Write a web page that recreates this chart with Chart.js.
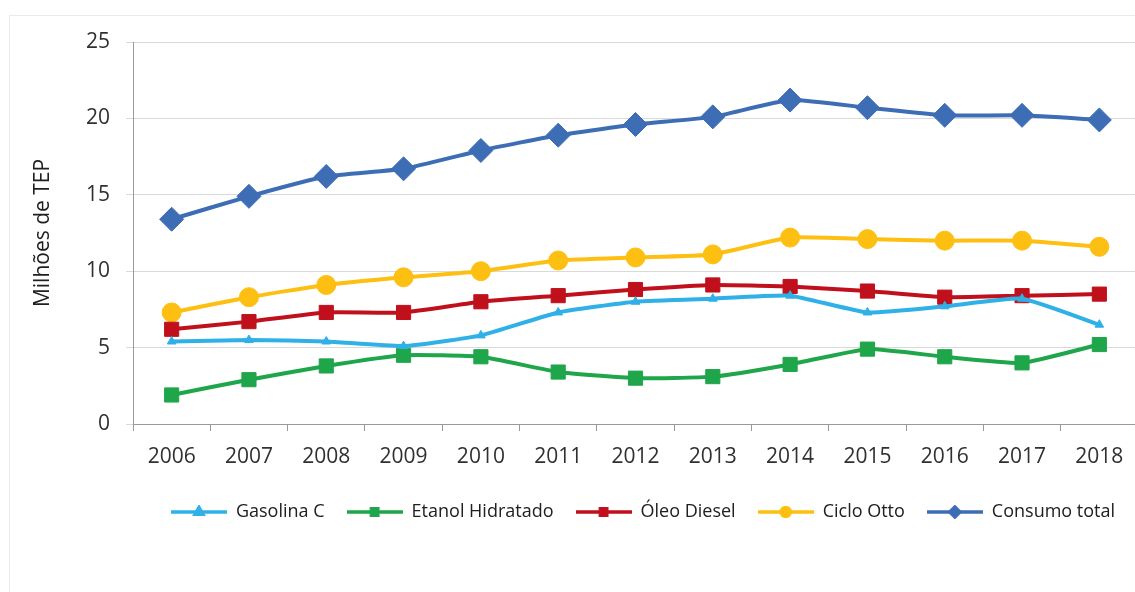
<!DOCTYPE html>
<html lang="pt">
<head>
<meta charset="UTF-8">
<title>Consumo de combustíveis</title>
<script src="https://cdn.jsdelivr.net/npm/chart.js"></script>
<style>
    html, body { margin: 0; padding: 0; background: #ffffff; overflow: hidden; }
    .frame {
        position: absolute; left: 9px; top: 15px; width: 1126px; height: 590px;
        border: 1px solid #ebebeb; border-right: none; box-sizing: border-box;
    }
    .box { position: absolute; left: 0; top: 0; width: 1151px; height: 592px; }
</style>
</head>
<body>
<div class="frame"></div>
<div class="box"><canvas id="chart"></canvas></div>
<script>
    const anos = ['2006', '2007', '2008', '2009', '2010', '2011', '2012', '2013', '2014', '2015', '2016', '2017', '2018'];
    const gasolinaC = [5.4, 5.5, 5.4, 5.1, 5.8, 7.3, 8.0, 8.2, 8.4, 7.3, 7.7, 8.2, 6.5];
    const etanolHidratado = [1.9, 2.9, 3.8, 4.5, 4.4, 3.4, 3.0, 3.1, 3.9, 4.9, 4.4, 4.0, 5.2];
    const oleoDiesel = [6.2, 6.7, 7.3, 7.3, 8.0, 8.4, 8.8, 9.1, 9.0, 8.7, 8.3, 8.4, 8.5];
    const cicloOtto = [7.3, 8.3, 9.1, 9.6, 10.0, 10.7, 10.9, 11.1, 12.2, 12.1, 12.0, 12.0, 11.6];
    const consumoTotal = [13.4, 14.9, 16.2, 16.7, 17.9, 18.9, 19.6, 20.1, 21.2, 20.7, 20.2, 20.2, 19.9];

    const FONT = "'Open Sans', sans-serif";

    // small line + marker image for each legend entry
    function legendIcon(color, style, r) {
        const c = document.createElement('canvas');
        c.width = 56; c.height = 14;
        const g = c.getContext('2d');
        g.strokeStyle = color; g.fillStyle = color; g.lineWidth = 3.5;
        g.beginPath(); g.moveTo(0, 7); g.lineTo(56, 7); g.stroke();
        Chart.helpers.drawPoint(g, { pointStyle: style, radius: r, borderWidth: 1 }, 28, 7);
        return c;
    }

    function serie(label, data, color, style, radius) {
        return {
            label: label,
            data: data,
            borderColor: color,
            backgroundColor: color,
            borderWidth: 4,
            pointStyle: style,
            pointRadius: radius,
            pointHoverRadius: radius,
            pointBorderWidth: 1,
            tension: 0.15,
            icon: legendIcon(color, style, style === 'rectRot' ? 5 : 4.5)
        };
    }

    const datasets = [
        serie('Gasolina C', gasolinaC, '#2fb0e6', 'triangle', 5),
        serie('Etanol Hidratado', etanolHidratado, '#1fa64b', 'rect', 10),
        serie('Óleo Diesel', oleoDiesel, '#c0101c', 'rect', 10),
        serie('Ciclo Otto', cicloOtto, '#fdbf11', 'circle', 9.5),
        serie('Consumo total', consumoTotal, '#3d6db4', 'rectRot', 12)
    ];

    // the legend sits a bit right of the canvas centre
    const legendShift = {
        id: 'legendShift',
        beforeDraw(chart) {
            const lg = chart.legend;
            const dx = 643 - (lg.left + lg.right) / 2;
            lg.left += dx;
            lg.right += dx;
        }
    };

    new Chart(document.getElementById('chart'), {
        type: 'line',
        data: { labels: anos, datasets: datasets },
        plugins: [legendShift],
        options: {
            responsive: true,
            maintainAspectRatio: false,
            animation: false,
            layout: { padding: { left: 30, right: 0, top: 42, bottom: 61 } },
            scales: {
                x: {
                    offset: true,
                    grid: { offset: true, drawOnChartArea: false, color: '#9a9a9a', tickLength: 7 },
                    border: { color: '#9a9a9a' },
                    ticks: { color: '#303030', font: { family: FONT, size: 21 }, padding: 13 },
                    afterFit: s => { s.height = 57; }
                },
                y: {
                    min: 0, max: 25,
                    ticks: { stepSize: 5, color: '#303030', font: { family: FONT, size: 21 }, padding: 16 },
                    grid: { color: '#d9d9d9', tickLength: 7 },
                    border: { color: '#9a9a9a' },
                    title: { display: true, text: 'Milhões de TEP', color: '#202020', font: { family: FONT, size: 21 }, padding: { top: 0, bottom: 0 } },
                    afterFit: s => { s.width = 103; }
                }
            },
            plugins: {
                tooltip: { enabled: false },
                legend: {
                    position: 'bottom',
                    labels: {
                        usePointStyle: true,
                        pointStyleWidth: 56,
                        padding: 22,
                        color: '#202020',
                        font: { family: FONT, size: 18 },
                        generateLabels: chart => Chart.defaults.plugins.legend.labels.generateLabels(chart).map(item => {
                            item.pointStyle = chart.data.datasets[item.datasetIndex].icon;
                            return item;
                        })
                    }
                }
            }
        }
    });
</script>
</body>
</html>
